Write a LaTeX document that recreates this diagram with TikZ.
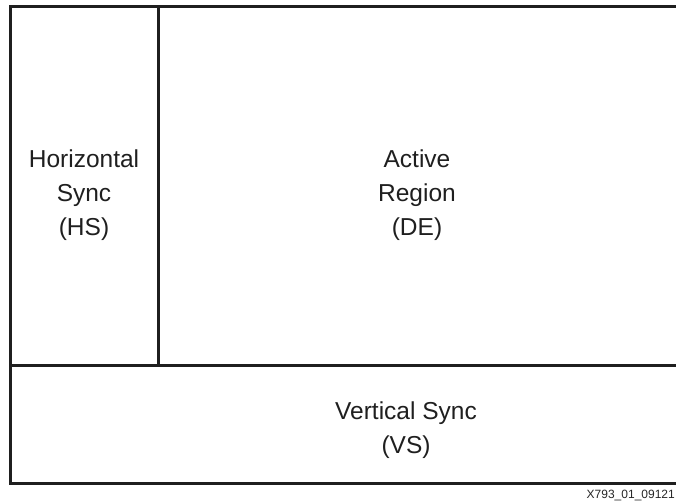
\documentclass[tikz,border=0pt]{standalone}
\usepackage{fontspec}
\setmainfont{Liberation Sans}
\begin{document}
\begin{tikzpicture}[x=1pt,y=-1pt,
  frame/.style={draw=black!88, line width=3pt},
  lbl/.style={font=\fontsize{24.5}{34}\selectfont, align=center, text=black!88, inner sep=0pt},
  tag/.style={font=\fontsize{12}{14}\selectfont, text=black!85, inner sep=0pt, anchor=base east}]
\useasboundingbox (0,0) rectangle (676,502);
\coordinate (tl) at (10.5,7);
\coordinate (tr) at (680,7);
\coordinate (bl) at (10.5,483.5);
\coordinate (br) at (680,483.5);
\coordinate (vt) at (158.5,7);
\coordinate (vb) at (158.5,365);
\coordinate (hl) at (10.5,365);
\coordinate (hr) at (680,365);
\draw[frame] (tr) -- (tl) -- (bl) -- (br);
\draw[frame] (vt) -- (vb);
\draw[frame] (hl) -- (hr);
\node[lbl] (hs) at (84,195) {Horizontal\\Sync\\(HS)};
\node[lbl] (de) at (417,195) {Active\\Region\\(DE)};
\node[lbl] (vs) at (406,430) {Vertical Sync\\(VS)};
\node[tag] (id) at (675,498) {X793\_01\_09121};
\end{tikzpicture}
\end{document}
